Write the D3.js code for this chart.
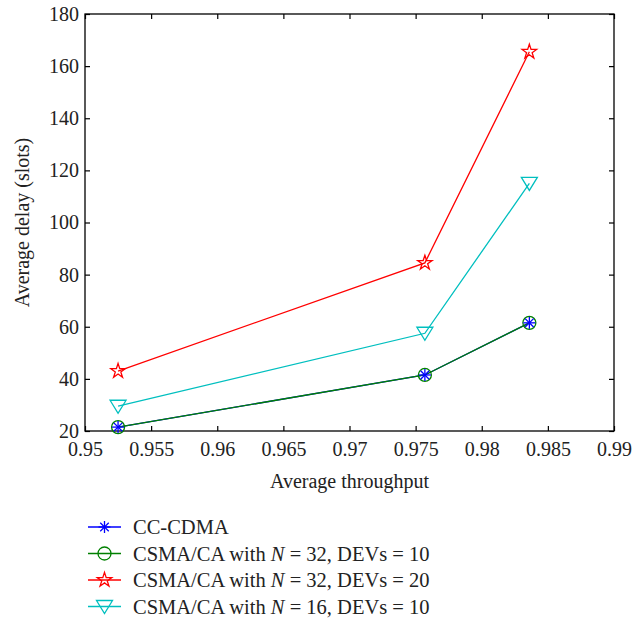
<!DOCTYPE html>
<html>
<head>
<meta charset="utf-8">
<script src="https://cdn.jsdelivr.net/npm/d3@7"></script>
<style>
  body { margin: 0; background: #fff; }
  svg text { font-family: "Liberation Serif", "DejaVu Serif", serif !important; }
</style>
</head>
<body>
<div id="chart"></div>
<script>
// data
const throughput = [0.9525, 0.9757, 0.9836];
const ccCdma = [21.5, 41.5, 61.5];
const csma32dev10 = [21.5, 41.5, 61.5];
const csma32dev20 = [43, 84.5, 165.5];
const csma16dev10 = [29.5, 57.5, 115];
const xTicks = [0.95, 0.955, 0.96, 0.965, 0.97, 0.975, 0.98, 0.985, 0.99];
const yTicks = [20, 40, 60, 80, 100, 120, 140, 160, 180];

const series = [
  {name: "CC-CDMA", values: ccCdma, color: "#0000ff", marker: "asterisk"},
  {name: ["CSMA/CA with ", "N", " = 32, DEVs = 10"], values: csma32dev10, color: "#008000", marker: "circle"},
  {name: ["CSMA/CA with ", "N", " = 32, DEVs = 20"], values: csma32dev20, color: "#ff0000", marker: "star"},
  {name: ["CSMA/CA with ", "N", " = 16, DEVs = 10"], values: csma16dev10, color: "#00bfbf", marker: "triangle"}
];

const FONT = "'Liberation Serif', 'DejaVu Serif', serif";
const W = 642, H = 621;
const margin = {top: 14, right: 28, bottom: 190, left: 85};
const width = W - margin.left - margin.right,
  height = H - margin.top - margin.bottom;

const svg = d3.select("#chart").append("svg")
  .attr("width", W).attr("height", H)
  .attr("font-family", FONT);
const g = svg.append("g")
  .attr("transform", "translate(" + margin.left + "," + margin.top + ")");

const x = d3.scaleLinear().domain([0.95, 0.99]).range([0, width]);
const y = d3.scaleLinear().domain([20, 180]).range([height, 0]);

// axes with inward ticks on all sides
const tick = 5;
g.append("g").attr("transform", "translate(0," + height + ")")
  .call(d3.axisBottom(x).tickValues(xTicks).tickSize(-tick).tickPadding(11).tickFormat(d3.format("")))
  .call(a => a.select(".domain").remove());
g.append("g")
  .call(d3.axisTop(x).tickValues(xTicks).tickSize(-tick).tickFormat(""))
  .call(a => a.select(".domain").remove());
g.append("g")
  .call(d3.axisLeft(y).tickValues(yTicks).tickSize(-tick).tickPadding(6))
  .call(a => a.select(".domain").remove());
g.append("g").attr("transform", "translate(" + width + ",0)")
  .call(d3.axisRight(y).tickValues(yTicks).tickSize(-tick).tickFormat(""))
  .call(a => a.select(".domain").remove());

g.selectAll(".tick line").attr("stroke", "#000").attr("stroke-width", 1.2);
g.selectAll(".tick text").attr("font-size", 20).attr("fill", "#222");

g.append("rect")
  .attr("width", width).attr("height", height)
  .attr("fill", "none").attr("stroke", "#000").attr("stroke-width", 1.3);

// axis titles
svg.append("text")
  .attr("x", margin.left + width / 2).attr("y", margin.top + height + 57)
  .attr("text-anchor", "middle").attr("font-size", 20).attr("fill", "#222")
  .text("Average throughput");
svg.append("text")
  .attr("transform", "translate(29," + (margin.top + height / 2) + ") rotate(-90)")
  .attr("text-anchor", "middle").attr("font-size", 20).attr("fill", "#222")
  .text("Average delay (slots)");

function drawMarker(sel, type, color) {
  if (type === "circle") {
    sel.append("circle").attr("r", 6.5).attr("fill", "none").attr("stroke", color).attr("stroke-width", 1.3);
  } else if (type === "asterisk") {
    [0, 45, 90, 135].forEach(a => {
      sel.append("line").attr("x1", -6).attr("x2", 6).attr("y1", 0).attr("y2", 0)
        .attr("transform", "rotate(" + a + ")")
        .attr("stroke", color).attr("stroke-width", 1.3);
    });
  } else if (type === "star") {
    sel.append("path")
      .attr("d", d3.symbol(d3.symbolStar, 65)())
      .attr("fill", "none").attr("stroke", color).attr("stroke-width", 1.3);
  } else if (type === "triangle") {
    sel.append("path")
      .attr("d", "M-8,-6L8,-6L0,7Z")
      .attr("fill", "none").attr("stroke", color).attr("stroke-width", 1.3);
  }
}

const line = d3.line().x(d => x(d[0])).y(d => y(d[1]));

// green line over blue line, blue asterisks over green circles
[2, 3, 0, 1].forEach(i => {
  const s = series[i];
  const pts = throughput.map((t, j) => [t, s.values[j]]);
  g.append("path").datum(pts)
    .attr("d", line).attr("fill", "none")
    .attr("stroke", s.color).attr("stroke-width", 1.3);
});
[2, 3, 1, 0].forEach(i => {
  const s = series[i];
  throughput.forEach((t, j) => {
    const m = g.append("g").attr("transform", "translate(" + x(t) + "," + y(s.values[j]) + ")");
    drawMarker(m, s.marker, s.color);
  });
});

// legend
const legend = svg.append("g").attr("transform", "translate(88,527)");
series.forEach((s, i) => {
  const row = legend.append("g").attr("transform", "translate(0," + i * 26.5 + ")");
  row.append("line").attr("x1", 0).attr("x2", 33).attr("y1", 0).attr("y2", 0)
    .attr("stroke", s.color).attr("stroke-width", 1.3);
  drawMarker(row.append("g").attr("transform", "translate(16.5,0)"), s.marker, s.color);
  const t = row.append("text").attr("x", 45).attr("y", 7).attr("font-size", 20.5).attr("fill", "#222");
  if (typeof s.name === "string") {
    t.text(s.name);
  } else {
    t.append("tspan").text(s.name[0]);
    t.append("tspan").attr("font-style", "italic").text(s.name[1]);
    t.append("tspan").text(s.name[2]);
  }
});

svg.selectAll("text").attr("font-family", FONT);
</script>
</body>
</html>
